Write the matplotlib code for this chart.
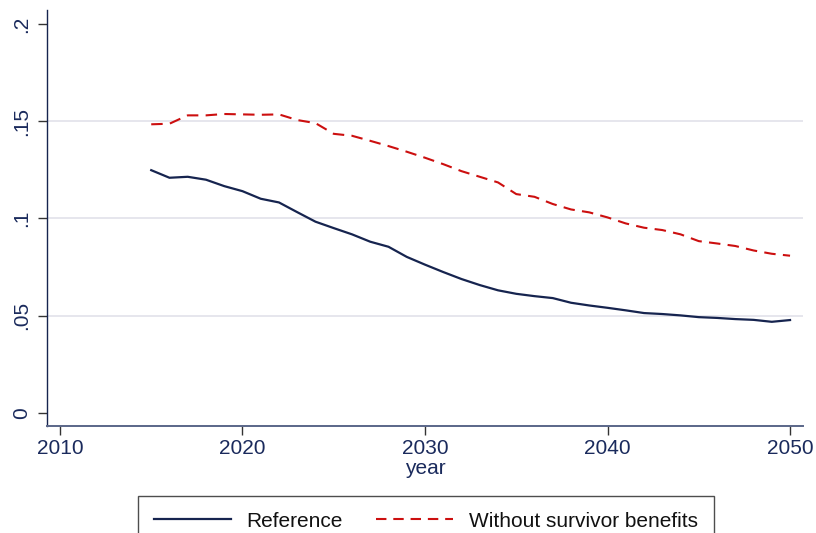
import matplotlib
matplotlib.use("Agg")
import matplotlib.pyplot as plt
from matplotlib.lines import Line2D

plt.rcParams['font.family'] = ['Liberation Sans', 'DejaVu Sans']

years = list(range(2015, 2051))

reference = [
    0.1248, 0.1209, 0.1214, 0.1199, 0.1166, 0.1140, 0.1101, 0.1082, 0.1032, 0.0983,
    0.0950, 0.0918, 0.0880, 0.0854, 0.0802, 0.0762, 0.0724, 0.0688, 0.0657, 0.0630,
    0.0612, 0.0600, 0.0590, 0.0566, 0.0552, 0.0540, 0.0527, 0.0513, 0.0508, 0.0501,
    0.0492, 0.0488, 0.0482, 0.0478, 0.0468, 0.0477,
]

no_survivor = [
    0.1484, 0.1487, 0.1530, 0.1530, 0.1537, 0.1535, 0.1533, 0.1535, 0.1506, 0.1490,
    0.1435, 0.1425, 0.1399, 0.1372, 0.1343, 0.1312, 0.1279, 0.1243, 0.1214, 0.1185,
    0.1125, 0.1111, 0.1074, 0.1046, 0.1031, 0.1005, 0.0974, 0.0952, 0.0940, 0.0918,
    0.0883, 0.0871, 0.0858, 0.0835, 0.0818, 0.0808,
]

x_ticks = [2010, 2020, 2030, 2040, 2050]
y_ticks = [0, 0.05, 0.1, 0.15, 0.2]
y_tick_labels = ["0", ".05", ".1", ".15", ".2"]
grid_levels = [0.05, 0.1, 0.15]

series_labels = ["Reference", "Without survivor benefits"]

NAVY = "#16244f"
RED = "#cc0f0f"
TEXT = "#1a2a5c"

W, H = 816, 533
fig = plt.figure(figsize=(W / 100, H / 100), dpi=100)
fig.patch.set_facecolor("white")

left, right, top, bottom = 47, 803, 10, 426
ax = fig.add_axes([left / W, (H - bottom) / H, (right - left) / W, (bottom - top) / H])

for g in grid_levels:
    ax.axhline(g, color="#e4e4ec", lw=1.3, zorder=0)

ax.plot(years, reference, color=NAVY, lw=1.6, solid_joinstyle="round", zorder=3)
ax.plot(years, no_survivor, color=RED, lw=1.5, dashes=(5.5, 3.5), zorder=3)

ax.set_xlim(2009.29, 2050.71)
ax.set_ylim(-0.0068, 0.2072)

ax.set_xticks(x_ticks)
ax.set_xticklabels([str(x) for x in x_ticks])
ax.set_yticks(y_ticks)
ax.set_yticklabels(y_tick_labels, rotation=90, va="center")

ax.tick_params(axis="both", colors="#333333", labelcolor=TEXT, labelsize=15,
               length=6.5, width=1.0, direction="out")
ax.tick_params(axis="x", pad=2.5)
ax.tick_params(axis="y", pad=5)

for s in ("top", "right"):
    ax.spines[s].set_visible(False)
ax.spines["left"].set_color(NAVY)
ax.spines["bottom"].set_color("#5a6688")
ax.spines["left"].set_linewidth(1.0)
ax.spines["bottom"].set_linewidth(1.4)

ax.set_xlabel("year", fontsize=15, color=TEXT, labelpad=1)

handles = [
    Line2D([], [], color=NAVY, lw=1.6),
    Line2D([], [], color=RED, lw=1.5, dashes=(5.0, 3.3)),
]
leg = fig.legend(handles, series_labels, loc="upper center",
                 bbox_to_anchor=(426 / W, (H - 496) / H), borderaxespad=0, ncol=2,
                 frameon=True, fancybox=False, fontsize=15, handlelength=3.7,
                 handletextpad=0.75, columnspacing=1.6, borderpad=0.75)
leg.get_frame().set_edgecolor("#222222")
leg.get_frame().set_linewidth(1.0)
for t in leg.get_texts():
    t.set_color("#111111")

fig.savefig("out.png", dpi=100, facecolor="white")
